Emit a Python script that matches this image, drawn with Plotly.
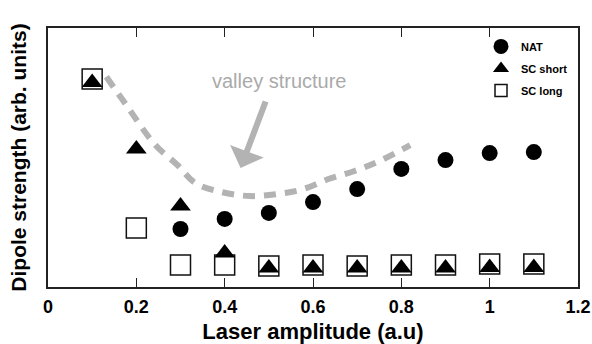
import plotly.graph_objects as go

# Laser amplitude (a.u) for each computed point
amplitude = [0.1, 0.2, 0.3, 0.4, 0.5, 0.6, 0.7, 0.8, 0.9, 1.0, 1.1]

# Dipole strength (arb. units) per model
nat_amp = [0.3, 0.4, 0.5, 0.6, 0.7, 0.8, 0.9, 1.0, 1.1]
nat_strength = [0.224, 0.263, 0.286, 0.328, 0.378, 0.456, 0.490, 0.517, 0.521]
sc_short_strength = [0.79, 0.533, 0.313, 0.131, 0.073, 0.073, 0.073, 0.073, 0.073, 0.075, 0.075]
sc_long_strength = [0.803, 0.228, 0.085, 0.085, 0.081, 0.085, 0.081, 0.085, 0.085, 0.089, 0.089]

# Guide curve tracing the valley
valley_x = [0.132, 0.177, 0.243, 0.293, 0.334, 0.395, 0.458, 0.519, 0.578, 0.635, 0.694, 0.750, 0.820]
valley_y = [0.812, 0.703, 0.548, 0.471, 0.401, 0.366, 0.351, 0.359, 0.378, 0.417, 0.448, 0.486, 0.548]

# Arrow pointing into the valley: tail and tip
arrow_tail = (0.494, 0.722)
arrow_tip = (0.436, 0.459)
label_pos = (0.525, 0.795)

x_ticks = [0, 0.2, 0.4, 0.6, 0.8, 1.0, 1.2]

FONT = "Liberation Sans, Arial, sans-serif"
GREY = "#b3b3b3"

fig = go.Figure()

fig.add_trace(go.Scatter(
    x=valley_x, y=valley_y, mode="lines",
    line=dict(color=GREY, width=6, dash="12px,9px", shape="spline", smoothing=1.0),
    showlegend=False, hoverinfo="skip",
))

fig.add_trace(go.Scatter(
    x=amplitude, y=sc_long_strength, mode="markers", name="SC long",
    marker=dict(symbol="square", size=20, color="white", line=dict(color="#111", width=1.5)),
    showlegend=False,
))
fig.add_trace(go.Scatter(
    x=amplitude, y=sc_short_strength, mode="markers", name="SC short",
    marker=dict(symbol="triangle-up", size=18, color="black", line=dict(width=0)),
    showlegend=False,
))
fig.add_trace(go.Scatter(
    x=nat_amp, y=nat_strength, mode="markers", name="NAT",
    marker=dict(symbol="circle", size=16, color="black", line=dict(width=0)),
    showlegend=False,
))

# Legend entries with their own symbol sizes
legend_items = [
    ("NAT", dict(symbol="circle", size=15, color="black", line=dict(width=0))),
    ("SC short", dict(symbol="triangle-up", size=14, color="black", line=dict(width=0))),
    ("SC long", dict(symbol="square", size=12, color="white", line=dict(color="#111", width=1.5))),
]
for name, mk in legend_items:
    fig.add_trace(go.Scatter(
        x=[None], y=[None], mode="markers", name=name, marker=mk,
        legendgroup=name, showlegend=True,
    ))

fig.add_annotation(
    x=arrow_tip[0], y=arrow_tip[1], ax=arrow_tail[0], ay=arrow_tail[1],
    xref="x", yref="y", axref="x", ayref="y",
    text="", showarrow=True, arrowhead=1, arrowsize=1, arrowwidth=6,
    arrowcolor=GREY, standoff=0,
)
fig.add_annotation(
    x=label_pos[0], y=label_pos[1], xref="x", yref="y",
    text="valley structure", showarrow=False,
    font=dict(family=FONT, size=20, color="#aaaaaa"),
    xanchor="center", yanchor="middle",
)

fig.update_layout(
    width=592, height=344,
    margin=dict(l=48, r=14, t=28, b=57),
    paper_bgcolor="white", plot_bgcolor="white",
    font=dict(family=FONT, color="black"),
    legend=dict(
        x=0.817, y=0.985, xanchor="left", yanchor="top",
        font=dict(family=FONT, size=11, weight="bold"),
        bgcolor="rgba(0,0,0,0)", tracegroupgap=3,
    ),
    xaxis=dict(
        range=[0, 1.2], tickvals=x_ticks, ticktext=["0", "0.2", "0.4", "0.6", "0.8", "1", "1.2"],
        ticks="inside", ticklen=9, tickwidth=1.3, tickcolor="#222",
        showline=True, linecolor="#222", linewidth=1.5, mirror="ticks",
        showgrid=False, zeroline=False, automargin=False,
        tickfont=dict(family=FONT, size=18, weight="bold"),
        ticklabelstandoff=3,
        title=dict(text="Laser amplitude (a.u)", font=dict(family=FONT, size=22, weight="bold"), standoff=7),
    ),
    yaxis=dict(
        range=[0, 1], showticklabels=False, ticks="",
        showline=True, linecolor="#222", linewidth=1.5, mirror=True,
        showgrid=False, zeroline=False, automargin=False,
        title=dict(text="Dipole strength (arb. units)", font=dict(family=FONT, size=21, weight="bold"), standoff=14),
    ),
)

fig.write_html("out.html")
